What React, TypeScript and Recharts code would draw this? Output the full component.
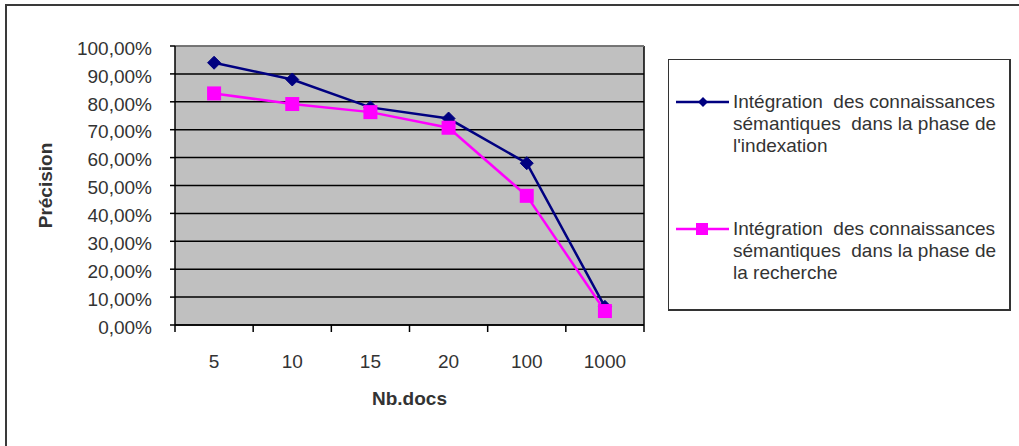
import React from "react";
import { LineChart, Line, XAxis, YAxis, CartesianGrid, ReferenceLine } from "recharts";

const categories = ["5", "10", "15", "20", "100", "1000"];
const indexationValues = [0.94, 0.88, 0.78, 0.74, 0.58, 0.065];
const rechercheValues = [0.83, 0.792, 0.763, 0.707, 0.463, 0.05];
const yTicks = [0, 0.1, 0.2, 0.3, 0.4, 0.5, 0.6, 0.7, 0.8, 0.9, 1];
const seriesNames = [
  ["Intégration  des connaissances", "sémantiques  dans la phase de", "l'indexation"],
  ["Intégration  des connaissances", "sémantiques  dans la phase de", "la recherche"],
];

const data = categories.map((c, i) => ({
  cat: c,
  indexation: indexationValues[i],
  recherche: rechercheValues[i],
}));

const FONT = "'Liberation Sans', Arial, sans-serif";
const TEXT = "#333";
const BLUE = "#000080";
const PINK = "#ff00ff";

const fmtPct = (v: number) => (v * 100).toFixed(2).replace(".", ",") + "%";

const Diamond = (props: any) => {
  const { cx, cy } = props;
  if (cx == null || cy == null) return null;
  const r = 6.5;
  return (
    <polygon
      points={`${cx},${cy - r} ${cx + r},${cy} ${cx},${cy + r} ${cx - r},${cy}`}
      fill={BLUE}
      stroke={BLUE}
      strokeWidth={1}
    />
  );
};

const Square = (props: any) => {
  const { cx, cy } = props;
  if (cx == null || cy == null) return null;
  const s = 7;
  return <rect x={cx - s} y={cy - s} width={2 * s} height={2 * s} fill={PINK} />;
};

const XTick = (props: any) => {
  const { x, y, payload, index, visibleTicksCount, width } = props;
  const bw = width && visibleTicksCount ? width / visibleTicksCount : 0;
  const cx = payload.coordinate ?? x;
  return (
    <g>
      <line x1={cx - bw / 2} x2={cx - bw / 2} y1={y - 7} y2={y} stroke="#000" strokeWidth={1.5} />
      {index === visibleTicksCount - 1 && (
        <line x1={cx + bw / 2} x2={cx + bw / 2} y1={y - 7} y2={y} stroke="#000" strokeWidth={1.5} />
      )}
      <text
        x={cx}
        y={y + 29}
        textAnchor="middle"
        dominantBaseline="central"
        fill={TEXT}
        fontSize={19}
        fontFamily={FONT}
      >
        {payload.value}
      </text>
    </g>
  );
};

const Legend = () => (
  <div
    style={{
      position: "absolute",
      left: 668,
      top: 59,
      width: 343,
      height: 252,
      borderTop: "1px solid #333",
      borderLeft: "1px solid #333",
      borderRight: "2px solid #333",
      borderBottom: "2px solid #333",
      background: "#fff",
      boxSizing: "border-box",
      fontFamily: FONT,
      fontSize: 19,
      color: TEXT,
    }}
  >
    {seriesNames.map((lines, i) => (
      <div key={i} style={{ position: "absolute", left: 0, top: i === 0 ? 31 : 158 }}>
        <svg width={62} height={22} style={{ position: "absolute", left: 5, top: 0 }}>
          <line x1={2} x2={55} y1={11} y2={11} stroke={i === 0 ? BLUE : PINK} strokeWidth={2.5} />
          {i === 0 ? (
            <polygon points="29,6 34,11 29,16 24,11" fill={BLUE} />
          ) : (
            <rect x={22} y={5} width={12} height={12} fill={PINK} />
          )}
        </svg>
        <div style={{ position: "absolute", left: 64, top: 0, whiteSpace: "pre", lineHeight: "22px" }}>
          {lines.map((l, j) => (
            <div key={j}>{l}</div>
          ))}
        </div>
      </div>
    ))}
  </div>
);

export default function App() {
  return (
    <div style={{ position: "absolute", left: 0, top: 0, width: 1019, height: 446, background: "#fff" }}>
      <div style={{ position: "absolute", left: 6, top: 4, width: 1013, height: 2, background: "#3a3a3a" }} />
      <div style={{ position: "absolute", left: 5, top: 4, width: 2, height: 442, background: "#3a3a3a" }} />
      <LineChart
        width={1019}
        height={446}
        data={data}
        margin={{ top: 46, right: 375, left: 20, bottom: 36 }}
      >
        <CartesianGrid
          fill="#c0c0c0"
          stroke="#000"
          strokeWidth={1.5}
          horizontal={true}
          vertical={{ stroke: "#8a8a8a", strokeWidth: 2 } as any}
          verticalCoordinatesGenerator={({ offset }: any) => [offset.left + offset.width]}
        />
        <ReferenceLine y={1} stroke="#8a8a8a" strokeWidth={1.5} />
        <XAxis
          dataKey="cat"
          scale="band"
          height={85}
          interval={0}
          tickLine={false}
          tickSize={7}
          tickMargin={0}
          axisLine={{ stroke: "#000", strokeWidth: 1.5 }}
          tick={<XTick />}
          label={({ viewBox }: any) => (
            <text
              x={viewBox.x + viewBox.width / 2}
              y={viewBox.y + 73}
              textAnchor="middle"
              dominantBaseline="central"
              fontWeight="bold"
              fontSize={19}
              fontFamily={FONT}
              fill={TEXT}
            >
              Nb.docs
            </text>
          )}
        />
        <YAxis
          width={155}
          domain={[0, 1]}
          ticks={yTicks}
          interval={0}
          tickFormatter={fmtPct}
          tickSize={5}
          tickMargin={18}
          tickLine={{ stroke: "#000", strokeWidth: 1.5 }}
          axisLine={{ stroke: "#000", strokeWidth: 1.5 }}
          tick={{ fill: TEXT, fontSize: 19, fontFamily: FONT, dy: 2 }}
          label={({ viewBox }: any) => {
            const cx = viewBox.x + 25;
            const cy = viewBox.y + viewBox.height / 2;
            return (
              <text
                x={cx}
                y={cy}
                transform={`rotate(-90 ${cx} ${cy})`}
                textAnchor="middle"
                dominantBaseline="central"
                fontWeight="bold"
                fontSize={19}
                fontFamily={FONT}
                fill={TEXT}
              >
                Précision
              </text>
            );
          }}
        />
        <Line
          dataKey="indexation"
          stroke={BLUE}
          strokeWidth={2.5}
          dot={<Diamond />}
          isAnimationActive={false}
        />
        <Line
          dataKey="recherche"
          stroke={PINK}
          strokeWidth={2.5}
          dot={<Square />}
          isAnimationActive={false}
        />
      </LineChart>
      <Legend />
    </div>
  );
}
